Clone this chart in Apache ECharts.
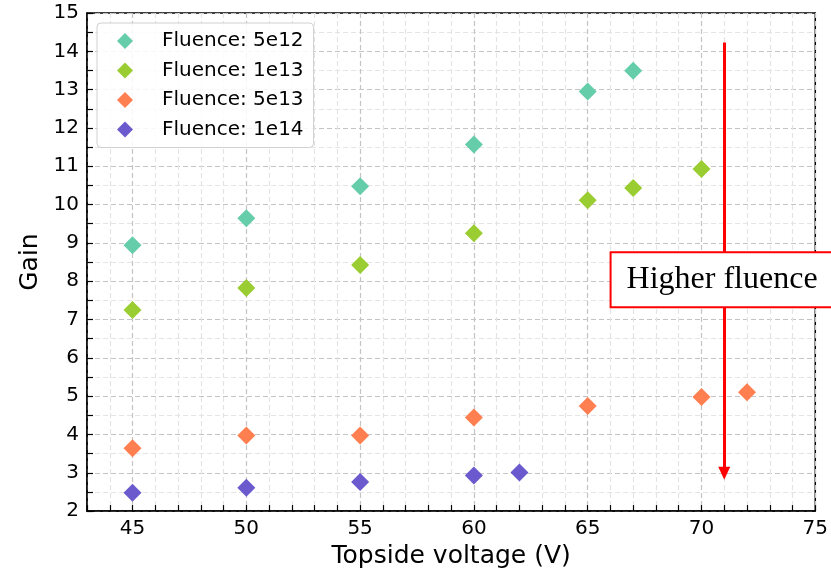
<!DOCTYPE html>
<html>
<head>
<meta charset="utf-8">
<script src="https://cdn.jsdelivr.net/npm/echarts@6/dist/echarts.min.js"></script>
<style>html,body{margin:0;padding:0;background:#fff}#c{width:831px;height:574px}</style>
</head>
<body>
<div id="c"></div>
<script>
// Data
const seriesNames = ['Fluence: 5e12', 'Fluence: 1e13', 'Fluence: 5e13', 'Fluence: 1e14'];
const seriesColors = ['#66cdaa', '#9acd32', '#ff7f50', '#6a5acd'];
const volts5e12 = [45, 50, 55, 60, 65, 67];
const gain5e12  = [8.94, 9.64, 10.48, 11.57, 12.95, 13.49];
const volts1e13 = [45, 50, 55, 60, 65, 67, 70];
const gain1e13  = [7.25, 7.82, 8.42, 9.25, 10.11, 10.43, 10.93];
const volts5e13 = [45, 50, 55, 60, 65, 70, 72];
const gain5e13  = [3.64, 3.97, 3.97, 4.44, 4.74, 4.98, 5.10];
const volts1e14 = [45, 50, 55, 60, 62];
const gain1e14  = [2.48, 2.61, 2.76, 2.93, 3.01];
const arrowStart = [71, 14.23];
const arrowEnd   = [71, 2.99];
const boxAnchor  = [66.05, 8.04];
const boxText    = 'Higher fluence';

const pairs = (xs, ys) => xs.map((x, i) => [x, ys[i]]);
const allData = [pairs(volts5e12, gain5e12), pairs(volts1e13, gain1e13), pairs(volts5e13, gain5e13), pairs(volts1e14, gain1e14)];

const major = '#c4c4c4', minor = '#e4e4e4';
const series = seriesNames.map((n, i) => ({
  name: n, type: 'scatter', data: allData[i], symbol: 'diamond', symbolSize: 18,
  itemStyle: { color: seriesColors[i], opacity: 1 }, z: 4
}));
series.push({
  type: 'scatter', data: [], z: 3, silent: true,
  markLine: {
    silent: true, animation: false, symbol: ['none', 'triangle'], symbolSize: [12, 13],
    lineStyle: { color: '#ff0000', width: 3, type: 'solid' }, label: { show: false },
    data: [[{ coord: arrowStart }, { coord: arrowEnd }]]
  }
});
series.push({
  type: 'scatter', data: [], z: 10, silent: true,
  markPoint: {
    silent: true, animation: false, symbol: 'rect', symbolSize: 0, z: 10,
    data: [{ coord: boxAnchor }],
    label: {
      show: true, position: 'right', distance: 0, formatter: boxText,
      fontFamily: 'Liberation Serif', fontSize: 32, lineHeight: 33, color: '#000',
      backgroundColor: '#fff', borderColor: '#ff0000', borderWidth: 2, padding: [10, 20, 10, 15]
    }
  }
});

const chart = echarts.init(document.getElementById('c'), null, { renderer: 'canvas' });
chart.setOption({
  animation: false,
  backgroundColor: '#fff',
  textStyle: { fontFamily: 'DejaVu Sans' },
  grid: { left: 87, right: 14, top: 13, bottom: 61, show: true, borderColor: '#000', borderWidth: 1.5, backgroundColor: 'transparent' },
  legend: {
    data: seriesNames, orient: 'vertical', left: 97, top: 23,
    icon: 'diamond', itemWidth: 16, itemHeight: 16, itemGap: 9.5,
    padding: [8, 10, 8, 20],
    backgroundColor: 'rgba(255,255,255,0.85)', borderColor: '#d0d0d0', borderWidth: 1, borderRadius: 4,
    textStyle: { fontFamily: 'DejaVu Sans', fontSize: 20, color: '#000', lineHeight: 16, padding: [0, 0, 0, 24] }
  },
  xAxis: {
    type: 'value', min: 43, max: 75, interval: 1,
    name: 'Topside voltage (V)', nameLocation: 'middle', nameGap: 31,
    nameTextStyle: { fontFamily: 'DejaVu Sans', fontSize: 25, color: '#000' },
    axisLine: { show: true, lineStyle: { color: '#000', width: 1.5 } },
    axisTick: { show: true, inside: true, length: 6, lineStyle: { color: '#000', width: 1.2 } },
    axisLabel: { fontFamily: 'DejaVu Sans', fontSize: 20, color: '#000', margin: 8,
      formatter: v => (v % 5 === 0 ? String(v) : '') , showMinLabel: true, showMaxLabel: true},
    splitLine: { show: true, lineStyle: { color: [minor, minor, major, minor, minor], type: [5, 3], width: 1.2 } }
  },
  yAxis: {
    type: 'value', min: 2, max: 15, interval: 0.5,
    name: 'Gain', nameLocation: 'middle', nameGap: 42, nameRotate: 90,
    nameTextStyle: { fontFamily: 'DejaVu Sans', fontSize: 25, color: '#000' },
    axisLine: { show: true, lineStyle: { color: '#000', width: 1.5 } },
    axisTick: { show: true, inside: true, length: 6, lineStyle: { color: '#000', width: 1.2 } },
    axisLabel: { fontFamily: 'DejaVu Sans', fontSize: 20, color: '#000', margin: 8,
      formatter: v => (Math.abs(v - Math.round(v)) < 1e-9 ? String(Math.round(v)) : '') },
    splitLine: { show: true, lineStyle: { color: [major, minor], type: [5, 3], width: 1.2 } }
  },
  series: series
});
</script>
</body>
</html>
